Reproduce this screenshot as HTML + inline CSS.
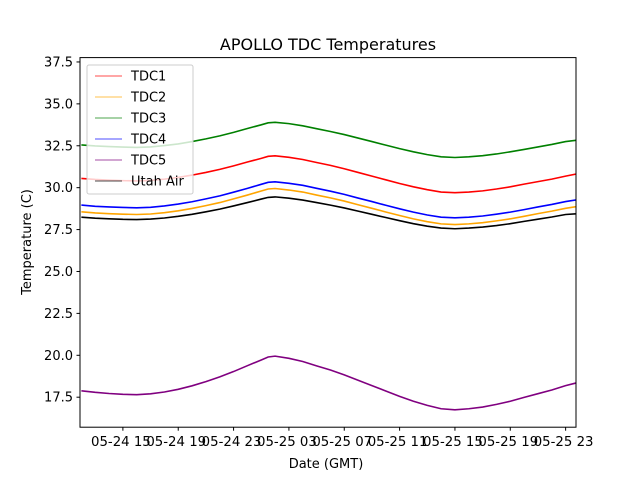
<!DOCTYPE html>
<html><head><meta charset="utf-8"><style>
body{margin:0;background:#fff}
svg text{font-family:"DejaVu Sans","Liberation Sans",sans-serif;fill:#000}
</style></head><body>
<svg id="chart" width="640" height="480" viewBox="0 0 640 480" xmlns="http://www.w3.org/2000/svg">
<rect width="640" height="480" fill="#fff"/>
<text x="328" y="50" font-size="16" text-anchor="middle">APOLLO TDC Temperatures</text>
<defs><clipPath id="clip"><rect x="80" y="57.6" width="496" height="369.6"/></clipPath></defs>
<g id="series" clip-path="url(#clip)"></g>
<g id="axes"></g>
<rect x="80" y="57.6" width="496" height="369.6" fill="none" stroke="#000" stroke-width="1"/>
<text x="326" y="468" font-size="13" text-anchor="middle">Date (GMT)</text>
<text transform="translate(31,242) rotate(-90)" font-size="13" text-anchor="middle">Temperature (C)</text>
<g id="legend"></g>
</svg>
<script>
const hours = [12,13,14,15,16,17,18,19,20,21,22,23,24,25,25.5,26,27,28,29,30,31,32,33,34,35,36,37,38,39,40,41,42,43,44,45,46,47,48];
const tdc1 = [30.55,30.49,30.45,30.42,30.4,30.43,30.51,30.61,30.75,30.91,31.09,31.3,31.53,31.75,31.87,31.9,31.81,31.68,31.5,31.33,31.13,30.91,30.69,30.47,30.25,30.05,29.88,29.74,29.7,29.74,29.81,29.92,30.05,30.21,30.36,30.51,30.69,30.85];
const tdc2 = [28.56,28.49,28.45,28.42,28.4,28.43,28.51,28.62,28.76,28.93,29.11,29.33,29.56,29.8,29.92,29.95,29.86,29.74,29.56,29.39,29.2,28.98,28.77,28.55,28.34,28.14,27.97,27.84,27.8,27.84,27.91,28.02,28.14,28.29,28.45,28.6,28.77,28.9];
const tdc3 = [32.55,32.49,32.45,32.42,32.4,32.43,32.51,32.61,32.75,32.91,33.09,33.3,33.53,33.75,33.87,33.9,33.82,33.69,33.52,33.35,33.17,32.96,32.75,32.54,32.33,32.14,31.97,31.84,31.8,31.84,31.91,32.01,32.14,32.28,32.43,32.58,32.75,32.85];
const tdc4 = [28.96,28.89,28.85,28.82,28.8,28.83,28.91,29.02,29.16,29.33,29.51,29.73,29.96,30.2,30.32,30.35,30.26,30.14,29.96,29.79,29.6,29.38,29.17,28.95,28.74,28.54,28.37,28.24,28.2,28.24,28.31,28.42,28.54,28.69,28.85,29.0,29.17,29.3];
const tdc5 = [17.88,17.79,17.72,17.67,17.65,17.7,17.81,17.97,18.18,18.43,18.71,19.03,19.38,19.72,19.9,19.95,19.82,19.63,19.37,19.12,18.83,18.51,18.19,17.87,17.55,17.26,17.01,16.81,16.75,16.81,16.91,17.07,17.26,17.49,17.71,17.93,18.19,18.4];
const utahAir = [28.24,28.18,28.14,28.11,28.1,28.13,28.19,28.29,28.41,28.56,28.72,28.91,29.11,29.32,29.42,29.45,29.37,29.26,29.11,28.96,28.79,28.6,28.41,28.22,28.03,27.85,27.7,27.59,27.55,27.59,27.65,27.74,27.85,27.99,28.12,28.25,28.4,28.45];
const seriesNames = ["TDC1","TDC2","TDC3","TDC4","TDC5","Utah Air"];
const yTicks = [17.5,20.0,22.5,25.0,27.5,30.0,32.5,35.0,37.5];
const xTickHours = [15,19,23,27,31,35,39,43,47];
const xTickLabels = ["05-24 15","05-24 19","05-24 23","05-25 03","05-25 07","05-25 11","05-25 15","05-25 19","05-25 23"];

const NS="http://www.w3.org/2000/svg";
const colors=["#ff0000","#ffa500","#008000","#0000ff","#800080","#000000"];
const allSeries=[tdc1,tdc2,tdc3,tdc4,tdc5,utahAir];
const X0=80,X1=576,Y0=427.2,Y1=57.6,H0=11.9,H1=47.75,V0=15.71,V1=37.76;
function xs(h){return X0+(h-H0)/(H1-H0)*(X1-X0);}
function ys(v){return Y0-(v-V0)/(V1-V0)*(Y0-Y1);}
function mk(tag,attrs,parent){const e=document.createElementNS(NS,tag);for(const k in attrs)e.setAttribute(k,attrs[k]);parent.appendChild(e);return e;}
const gS=document.getElementById('series'),gA=document.getElementById('axes'),gL=document.getElementById('legend');
allSeries.forEach((s,i)=>{
  const d=s.map((v,j)=>(j?'L':'M')+xs(hours[j]).toFixed(2)+','+ys(v).toFixed(2)).join(' ');
  const p=mk('path',{d:d,fill:'none',stroke:colors[i],'stroke-width':1.6},gS);
  
  
});
yTicks.forEach(v=>{
  const y=ys(v);
  const t=mk('line',{x1:76.5,x2:80,y1:y,y2:y,stroke:'#000'},gA);
  
  
  const l=mk('text',{x:73,y:y+4.5,'font-size':13,'text-anchor':'end'},gA);
  l.textContent=v.toFixed(1);
  
  
});
xTickHours.forEach((h,i)=>{
  const x=xs(h);
  const t=mk('line',{x1:x,x2:x,y1:427.2,y2:430.7,stroke:'#000'},gA);
  
  
  const l=mk('text',{x:x-2,y:446,'font-size':13.3,'text-anchor':'middle'},gA);
  l.textContent=xTickLabels[i];
  
  
});
const box=mk('rect',{x:87,y:65,width:106,height:129,rx:2,fill:'#fff','fill-opacity':0.8,stroke:'#ccc'},gL);


seriesNames.forEach((n,i)=>{
  const y=76+i*21;
  const g=mk('g',{},gL);
  
  
  mk('line',{x1:95,x2:122,y1:y,y2:y,stroke:colors[i],'stroke-width':1,'stroke-opacity':0.7},g);
  const t=mk('text',{x:131,y:y+4.5,'font-size':13},g);
  t.textContent=n;
});
</script>
</body></html>
